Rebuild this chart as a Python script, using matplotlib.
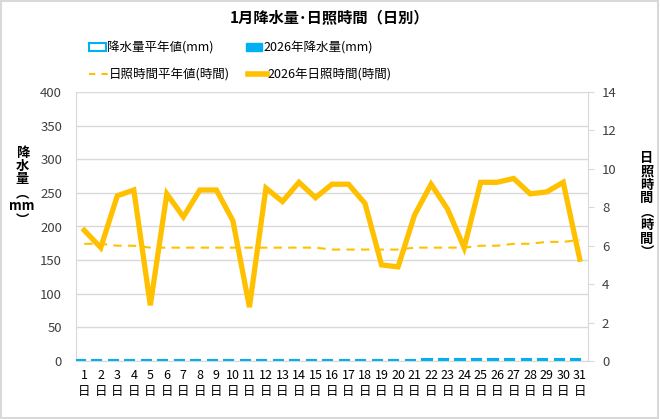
import numpy as np
import matplotlib
matplotlib.use("Agg")
import matplotlib.pyplot as plt
from matplotlib.lines import Line2D
from matplotlib.patches import Patch

plt.rcParams['font.family'] = ['Noto Sans CJK JP', 'DejaVu Sans']

days = [str(d) + "\n日" for d in range(1, 32)]
rain_normal = [1.0, 1.0, 1.0, 1.0, 1.5, 1.5, 1.5, 1.5, 1.5, 1.5, 1.5, 1.5,
               2.0, 2.0, 2.0, 2.0, 2.0, 2.0, 2.0, 2.0, 2.0, 2.5, 2.5, 2.5,
               2.5, 2.5, 2.5, 2.5, 2.5, 2.5, 2.5]
rain_2026 = [0.0] * 31
sun_normal = [6.1, 6.1, 6.0, 6.0, 5.9, 5.9, 5.9, 5.9, 5.9, 5.9, 5.9, 5.9,
              5.9, 5.9, 5.9, 5.8, 5.8, 5.8, 5.8, 5.8, 5.9, 5.9, 5.9, 5.9,
              6.0, 6.0, 6.1, 6.1, 6.2, 6.2, 6.3]
sun_2026 = [6.8, 5.9, 8.6, 8.9, 2.9, 8.7, 7.5, 8.9, 8.9, 7.3, 2.8, 9.0,
            8.3, 9.3, 8.5, 9.2, 9.2, 8.2, 5.0, 4.9, 7.6, 9.2, 7.9, 5.9,
            9.3, 9.3, 9.5, 8.7, 8.8, 9.3, 5.3]

blue = "#00B0F0"
orange = "#FFC000"
grid_c = "#D9D9D9"
txt = "#404040"

fig = plt.figure(figsize=(6.6, 4.19), dpi=100)
ax = fig.add_axes([76/660, 1-361/419, 512/660, 269/419])
x = np.arange(31)
ax.bar(x - 0.25, rain_normal, 0.55, facecolor="white", edgecolor=blue, linewidth=1.5, zorder=3)
ax.bar(x + 0.25, rain_2026, 0.55, color=blue, zorder=3)
ax.set_xlim(-0.5, 30.5)
ax.set_ylim(0, 400)
ax.set_yticks(range(0, 401, 50))
ax.yaxis.grid(True, color=grid_c, linewidth=1)
ax.set_axisbelow(True)
ax.set_xticks(x)
ax.set_xticklabels(days, fontsize=9, linespacing=1.3)
ax.tick_params(axis='x', length=0, pad=6, colors="black")
ax.tick_params(axis='y', length=0, labelsize=9.5, colors=txt, pad=10)
for s in ['top', 'right']:
    ax.spines[s].set_visible(False)
ax.spines['left'].set_color(grid_c)
ax.spines['bottom'].set_color(grid_c)
ax.set_ylabel("降\n水\n量\n︵\nmm\n︶", rotation=0, fontsize=9.5, fontweight='bold',
              linespacing=0.95, va='center')
ax.yaxis.set_label_coords(-0.105, 0.65)

ax2 = ax.twinx()
ax2.plot(x, sun_normal, color=orange, linestyle=(0, (4, 3)), linewidth=1.5, zorder=4)
ax2.plot(x, sun_2026, color=orange, linewidth=3.8, zorder=5, solid_joinstyle='miter')
ax2.set_ylim(0, 14)
ax2.set_yticks(range(0, 15, 2))
ax2.tick_params(axis='y', length=4, labelsize=9.5, colors=txt, pad=6)
ax2.tick_params(axis='y', color=grid_c)
for s in ['top', 'left', 'bottom']:
    ax2.spines[s].set_visible(False)
ax2.spines['right'].set_color(grid_c)
ax2.set_ylabel("日\n照\n時\n間\n︵\n時\n間\n︶", rotation=0, fontsize=9.5, fontweight='bold',
               linespacing=0.95, va='center')
ax2.yaxis.set_label_coords(1.115, 0.58)

fig.text(0.5, 1-18/419, "1月降水量･日照時間（日別）", ha='center', va='center',
         fontsize=11, fontweight='bold')

handles = [Patch(facecolor='white', edgecolor=blue, linewidth=1.5),
           Patch(facecolor=blue, edgecolor=blue),
           Line2D([], [], color=orange, linestyle=(0, (3, 3)), linewidth=1.5),
           Line2D([], [], color=orange, linewidth=4)]
labels = ["降水量平年値(mm)", "2026年降水量(mm)", "日照時間平年値(時間)", "2026年日照時間(時間)"]
fig.legend(handles[0:2], labels[0:2], loc='center left', bbox_to_anchor=(78/660, 1-48/419),
           ncol=2, frameon=False, fontsize=9, handlelength=1.3, handletextpad=0.1,
           columnspacing=2.6, handleheight=0.6)
fig.legend(handles[2:4], labels[2:4], loc='center left', bbox_to_anchor=(78/660, 1-75/419),
           ncol=2, frameon=False, fontsize=9, handlelength=1.5, handletextpad=0.1,
           columnspacing=1.4)

border = plt.Rectangle((0.002, 0.003), 0.995, 0.994, transform=fig.transFigure,
                       fill=False, edgecolor="#D9D9D9", linewidth=1.5)
fig.patches.append(border)

fig.savefig("out.png", dpi=100)
